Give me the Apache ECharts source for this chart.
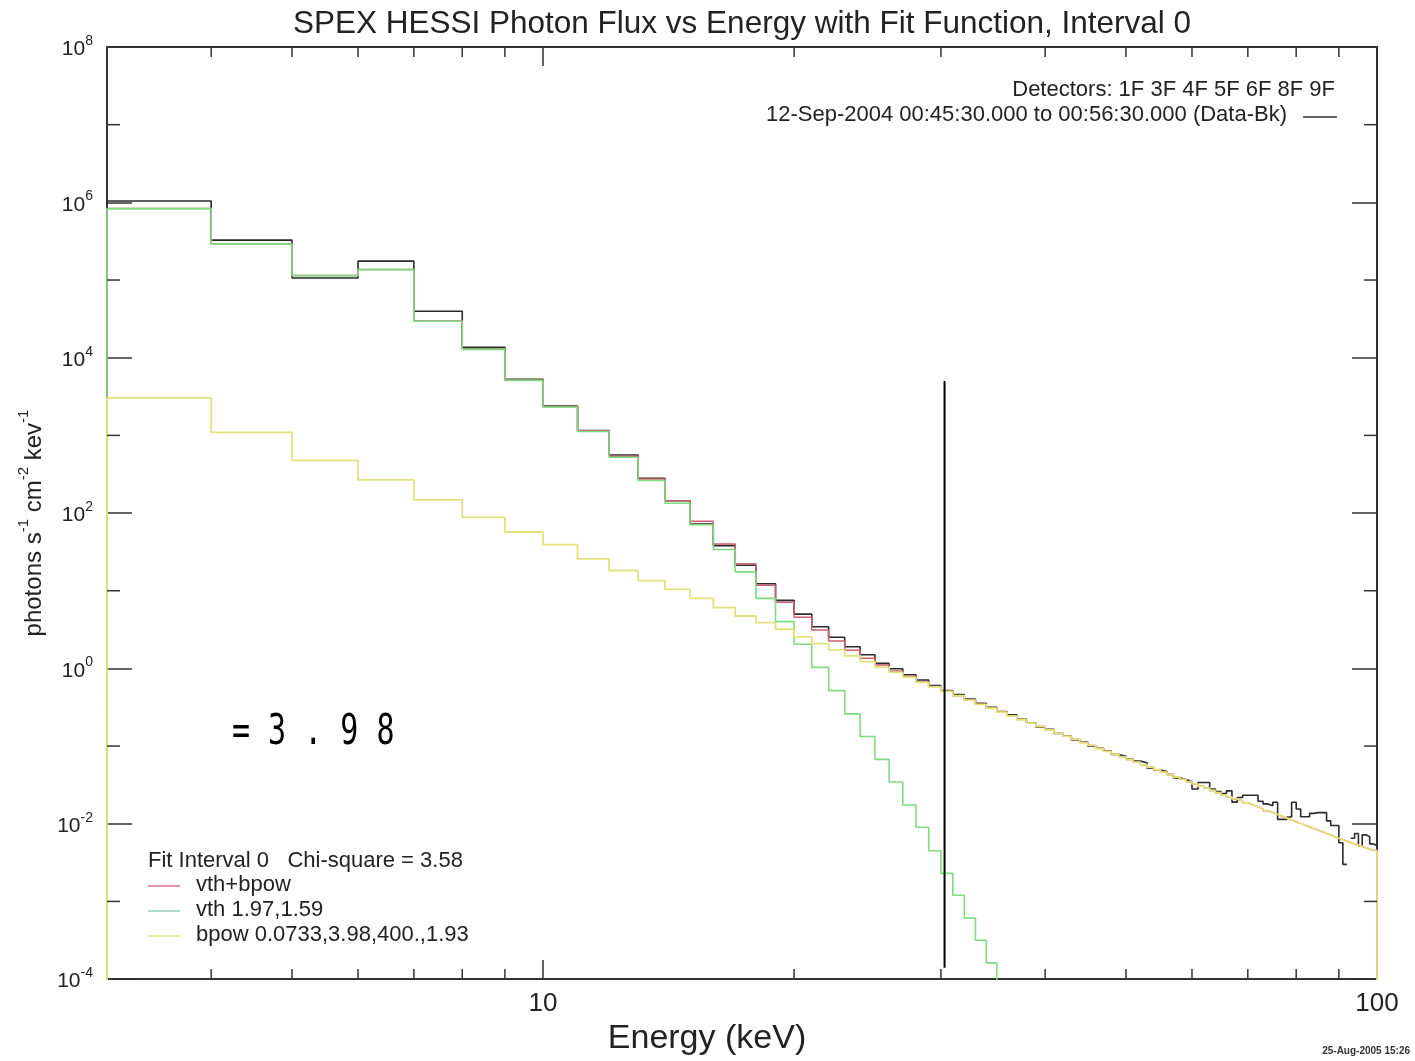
<!DOCTYPE html>
<html>
<head>
<meta charset="utf-8">
<script src="https://cdn.jsdelivr.net/npm/echarts@6/dist/echarts.min.js"></script>
<style>
html,body{margin:0;padding:0;background:#fff;}
#chart{width:1415px;height:1061px;}
</style>
</head>
<body>
<div id="chart"></div>
<script>
// Energy bin edges (keV)
const binEdges = [3,4,5,6,7,8,9,10,11,12,13,14,15,16,17,18,19,20,21,22,23,24,25,26,27,28,29,30,
  31,32,33,34,35,36,37,38,39,40,41,42,43,44,45,46,47,48,49,50,51,52,53,54,55,56,57,58,59,60,
  61,62,63,64,65,66,67,68,69,70,71,72,73,74,75,76,77,78,79,80,81,82,83,84,85,86,87,88,89,90,
  91,92,93,94,95,96,97,98,99,100];

// Observed photon flux (Data-Bk), one value per bin (3-4 ... 99-100 keV)
const dataFlux = [1.04e6,3.26e5,1.06e5,1.75e5,3.97e4,1.36e4,5.27e3,2.39e3,1.15e3,558,
  281,144,72.3,38.1,21.3,12.3,7.52,5.0,3.43,2.52,
  1.9,1.5,1.16,0.99,0.83,0.708,0.6,0.518,0.46,0.404,
  0.356,0.316,0.279,0.252,0.222,0.2,0.176,0.165,0.145,0.136,
  0.12,0.113,0.1,0.094,0.087,0.078,0.074,0.068,0.064,0.061,
  0.052,0.049,0.047,0.043,0.039,0.037,0.035,0.028,0.034,0.034,
  0.028,0.026,0.0245,0.0265,0.019,0.0218,0.0233,0.0233,0.0233,0.0195,
  0.018,0.017,0.0189,0.0114,0.0114,0.0122,0.0189,0.0155,0.0123,0.0123,
  0.0136,0.0139,0.0139,0.0139,0.0109,0.0095,0.0095,0.0057,0.003,null,
  0.0065,0.0075,0.0052,0.0072,0.0068,0.0055,0.0052];

// Thermal component (vth)
const vthFlux = [8.3e5,2.9e5,1.14e5,1.36e5,2.95e4,1.28e4,5.1e3,2.31e3,1.12e3,522,
  262,134,70.8,33.9,17.5,7.96,4.0,2.05,1.03,0.518,
  0.26,0.133,0.0675,0.0345,0.0174,0.009,0.0045,0.0023,0.0012,6.1e-4,
  3.16e-4,1.62e-4,8.3e-5,4.3e-5,2.2e-5,1.1e-5,5.5e-6,null,null,null,
  null,null,null,null,null,null,null,null,null,null,
  null,null,null,null,null,null,null,null,null,null,
  null,null,null,null,null,null,null,null,null,null,
  null,null,null,null,null,null,null,null,null,null,
  null,null,null,null,null,null,null,null,null,null,
  null,null,null,null,null,null,null];

// Broken power-law component (bpow)
const bpowFlux = [3040,1090,478,267,148,88,57,39.3,25.7,18.2,
  13.5,10.4,7.96,6.05,4.73,3.89,3.19,2.55,2.08,1.73,
  1.45,1.22,1.04,0.89,0.77,0.66,0.58,0.505,0.445,0.39,
  0.345,0.307,0.274,0.245,0.22,0.198,0.179,0.162,0.147,0.134,
  0.122,0.111,0.102,0.093,0.0857,0.079,0.0728,0.0672,0.0622,0.0576,
  0.0534,0.0496,0.0461,0.0429,0.04,0.0373,0.0348,0.0326,0.0305,0.0286,
  0.0268,0.0251,0.0236,0.0222,0.0209,0.0197,0.0185,0.0175,0.0165,0.0156,
  0.0147,0.0139,0.0132,0.0125,0.0118,0.0112,0.0106,0.0101,0.0096,0.0091,
  0.0087,0.0083,0.0079,0.0075,0.0072,0.0068,0.0065,0.0062,0.006,0.0057,
  0.0055,0.0053,0.0051,0.0049,0.0047,0.0046,0.0045];

// Total model (vth+bpow)
const totalFlux = [8.35e5,2.91e5,1.145e5,1.363e5,2.96e4,1.29e4,5.16e3,2.35e3,1.15e3,540,
  275,144,78.6,39.9,22.2,11.8,7.1,4.57,3.11,2.25,
  1.71,1.35,1.11,0.925,0.788,0.669,0.585,0.507,0.446,0.39,
  0.345,0.307,0.274,0.245,0.22,0.198,0.179,0.162,0.147,0.134,
  0.122,0.111,0.102,0.093,0.0857,0.079,0.0728,0.0672,0.0622,0.0576,
  0.0534,0.0496,0.0461,0.0429,0.04,0.0373,0.0348,0.0326,0.0305,0.0286,
  0.0268,0.0251,0.0236,0.0222,0.0209,0.0197,0.0185,0.0175,0.0165,0.0156,
  0.0147,0.0139,0.0132,0.0125,0.0118,0.0112,0.0106,0.0101,0.0096,0.0091,
  0.0087,0.0083,0.0079,0.0075,0.0072,0.0068,0.0065,0.0062,0.006,0.0057,
  0.0055,0.0053,0.0051,0.0049,0.0047,0.0046,0.0045];

// Vertical marker near 30 keV (energy, flux endpoints)
const cutLineEnergy = [30.3, 30.3];
const cutLineFlux = [5000, 1.4e-4];

// Axis tick values
const xMinorTicks = [4,5,6,7,8,9,20,30,40,50,60,70,80,90];
const yMinorTicks = [1e7,1e5,1e3,1e1,1e-1,1e-3];
const FLOOR = 1e-7; // below the axis minimum: histogram edges drop off the plot

function stepData(vals, dropEnds) {
  const pts = [];
  if (dropEnds) pts.push([binEdges[0], FLOOR]);
  for (let i = 0; i < vals.length; i++) {
    pts.push([binEdges[i], vals[i] == null ? '-' : vals[i]]);
  }
  const last = vals[vals.length - 1];
  if (last != null) pts.push([binEdges[vals.length], dropEnds ? FLOOR : last]);
  return pts;
}

const FONT = 'Liberation Sans';
const AX = '#333';

function logLabel(v) {
  const e = Math.round(Math.log10(v));
  return '{b|10}{s|' + e + '}';
}

const chart = echarts.init(document.getElementById('chart'), null, {renderer: 'canvas'});

const yAxisBase = {
  type: 'log', logBase: 10, min: 1e-4, max: 1e8, interval: 2,
  axisLine: {show: true, lineStyle: {color: AX, width: 2}},
  axisTick: {show: true, inside: true, length: 25, lineStyle: {color: AX, width: 1.5}},
  minorTick: {show: false},
  splitLine: {show: false}
};
const xAxisBase = {
  type: 'log', logBase: 10, min: 3, max: 100,
  axisLine: {show: true, lineStyle: {color: AX, width: 2}},
  axisTick: {show: true, inside: true, length: 19, lineStyle: {color: AX, width: 1.5}},
  minorTick: {show: false},
  splitLine: {show: false}
};

const option = {
  animation: false,
  backgroundColor: '#ffffff',
  grid: {left: 107, right: 38, top: 47, bottom: 80, containLabel: false},
  xAxis: [
    Object.assign({}, xAxisBase, {
      position: 'bottom',
      axisLabel: {
        show: true, margin: 12, fontSize: 26, color: '#222', fontFamily: FONT,
        formatter: function (v) {
          const l = Math.log10(v);
          return Math.abs(l - Math.round(l)) < 1e-6 ? String(Math.round(v)) : '';
        }
      },
      name: 'Energy (keV)', nameLocation: 'middle', nameGap: 23,
      nameTextStyle: {fontSize: 34, color: '#222', fontFamily: FONT, padding: [0, 70, 0, 0]}
    }),
    Object.assign({}, xAxisBase, {position: 'top', axisLabel: {show: false}})
  ],
  yAxis: [
    Object.assign({}, yAxisBase, {
      position: 'left',
      axisLabel: {
        show: true, margin: 14, color: '#222', fontFamily: FONT,
        formatter: logLabel,
        rich: {
          b: {fontSize: 21, fontFamily: FONT, color: '#222', lineHeight: 26, verticalAlign: 'bottom'},
          s: {fontSize: 14, fontFamily: FONT, color: '#222', lineHeight: 15, verticalAlign: 'top'}
        }
      },
      name: '{a|photons s}{s|-1}{a| cm}{s|-2}{a| kev}{s|-1}',
      nameLocation: 'middle', nameGap: 60, nameRotate: 90,
      nameTextStyle: {
        padding: [0, 20, 0, 0],
        rich: {
          a: {fontSize: 24, fontFamily: FONT, color: '#222', lineHeight: 30, verticalAlign: 'bottom'},
          s: {fontSize: 15, fontFamily: FONT, color: '#222', lineHeight: 16, verticalAlign: 'top'}
        }
      }
    }),
    Object.assign({}, yAxisBase, {position: 'right', axisLabel: {show: false}})
  ],
  series: [
    {
      name: 'Data-Bk', type: 'line', step: 'end', showSymbol: false, symbol: 'none',
      data: stepData(dataFlux, false), connectNulls: false, clip: true,
      lineStyle: {color: '#2a2a2a', width: 1.6}, z: 3
    },
    {
      name: 'vth+bpow', type: 'line', step: 'end', showSymbol: false, symbol: 'none',
      data: stepData(totalFlux, true), connectNulls: false, clip: true,
      lineStyle: {color: '#cc6070', width: 1.5}, z: 4
    },
    {
      name: 'vth', type: 'line', step: 'end', showSymbol: false, symbol: 'none',
      data: stepData(vthFlux, true), connectNulls: false, clip: true,
      lineStyle: {color: '#7ddc80', width: 1.6}, z: 5
    },
    {
      name: 'bpow', type: 'line', step: 'end', showSymbol: false, symbol: 'none',
      data: stepData(bpowFlux, true), connectNulls: false, clip: true,
      lineStyle: {color: '#e2e27a', width: 1.8}, z: 6
    },
    {
      name: 'cut', type: 'line', showSymbol: false, symbol: 'none',
      data: cutLineEnergy.map((e, i) => [e, cutLineFlux[i]]),
      lineStyle: {color: '#000', width: 2}, z: 7
    },
    {
      name: 'xminor', type: 'custom', silent: true, z: 8,
      data: xMinorTicks.map(v => [v, 1]),
      renderItem: function (params, api) {
        const p = api.coord([api.value(0), 1]);
        const cs = params.coordSys;
        const st = {stroke: AX, lineWidth: 1.5};
        return {type: 'group', children: [
          {type: 'line', shape: {x1: p[0], y1: cs.y + cs.height, x2: p[0], y2: cs.y + cs.height - 10}, style: st},
          {type: 'line', shape: {x1: p[0], y1: cs.y, x2: p[0], y2: cs.y + 10}, style: st}
        ]};
      }
    },
    {
      name: 'yminor', type: 'custom', silent: true, z: 8,
      data: yMinorTicks.map(v => [10, v]),
      renderItem: function (params, api) {
        const p = api.coord([10, api.value(1)]);
        const cs = params.coordSys;
        const st = {stroke: AX, lineWidth: 1.5};
        return {type: 'group', children: [
          {type: 'line', shape: {x1: cs.x, y1: p[1], x2: cs.x + 13, y2: p[1]}, style: st},
          {type: 'line', shape: {x1: cs.x + cs.width, y1: p[1], x2: cs.x + cs.width - 13, y2: p[1]}, style: st}
        ]};
      }
    }
  ],
  graphic: [
    {type: 'text', x: 742, y: 24, z: 10,
      style: {text: 'SPEX HESSI Photon Flux vs Energy with Fit Function, Interval 0', fill: '#222',
        font: '31.5px "Liberation Sans"', textAlign: 'center', textVerticalAlign: 'middle'}},
    {type: 'text', x: 1335, y: 90, z: 10,
      style: {text: 'Detectors: 1F 3F 4F 5F 6F 8F 9F', fill: '#222',
        font: '22px "Liberation Sans"', textAlign: 'right', textVerticalAlign: 'middle'}},
    {type: 'text', x: 1287, y: 115, z: 10,
      style: {text: '12-Sep-2004 00:45:30.000 to 00:56:30.000 (Data-Bk)', fill: '#222',
        font: '22px "Liberation Sans"', textAlign: 'right', textVerticalAlign: 'middle'}},
    {type: 'line', z: 10, shape: {x1: 1303, y1: 117, x2: 1337, y2: 117}, style: {stroke: '#333', lineWidth: 1.5}},
    {type: 'text', x: 148, y: 861, z: 10,
      style: {text: 'Fit Interval 0   Chi-square = 3.58', fill: '#222',
        font: '22px "Liberation Sans"', textAlign: 'left', textVerticalAlign: 'middle'}},
    {type: 'line', z: 10, shape: {x1: 148, y1: 886, x2: 180, y2: 886}, style: {stroke: '#d8708a', lineWidth: 1.5}},
    {type: 'text', x: 196, y: 885, z: 10,
      style: {text: 'vth+bpow', fill: '#222', font: '22px "Liberation Sans"', textAlign: 'left', textVerticalAlign: 'middle'}},
    {type: 'line', z: 10, shape: {x1: 148, y1: 911, x2: 180, y2: 911}, style: {stroke: '#8fcfb0', lineWidth: 1.5}},
    {type: 'text', x: 196, y: 910, z: 10,
      style: {text: 'vth 1.97,1.59', fill: '#222', font: '22px "Liberation Sans"', textAlign: 'left', textVerticalAlign: 'middle'}},
    {type: 'line', z: 10, shape: {x1: 148, y1: 936, x2: 180, y2: 936}, style: {stroke: '#e6e68a', lineWidth: 1.5}},
    {type: 'text', x: 196, y: 935, z: 10,
      style: {text: 'bpow 0.0733,3.98,400.,1.93', fill: '#222', font: '22px "Liberation Sans"', textAlign: 'left', textVerticalAlign: 'middle'}},
    {type: 'text', x: 232, y: 711, scaleY: 1.45, z: 10,
      style: {text: '= 3 . 9 8', fill: '#000', font: '30px "DejaVu Sans Mono"', textAlign: 'left', textVerticalAlign: 'top'}},
    {type: 'text', x: 1410, y: 1051, z: 10,
      style: {text: '25-Aug-2005 15:26', fill: '#333', font: 'bold 10px "Liberation Sans"', textAlign: 'right', textVerticalAlign: 'middle'}}
  ]
};

chart.setOption(option);
</script>
</body>
</html>
